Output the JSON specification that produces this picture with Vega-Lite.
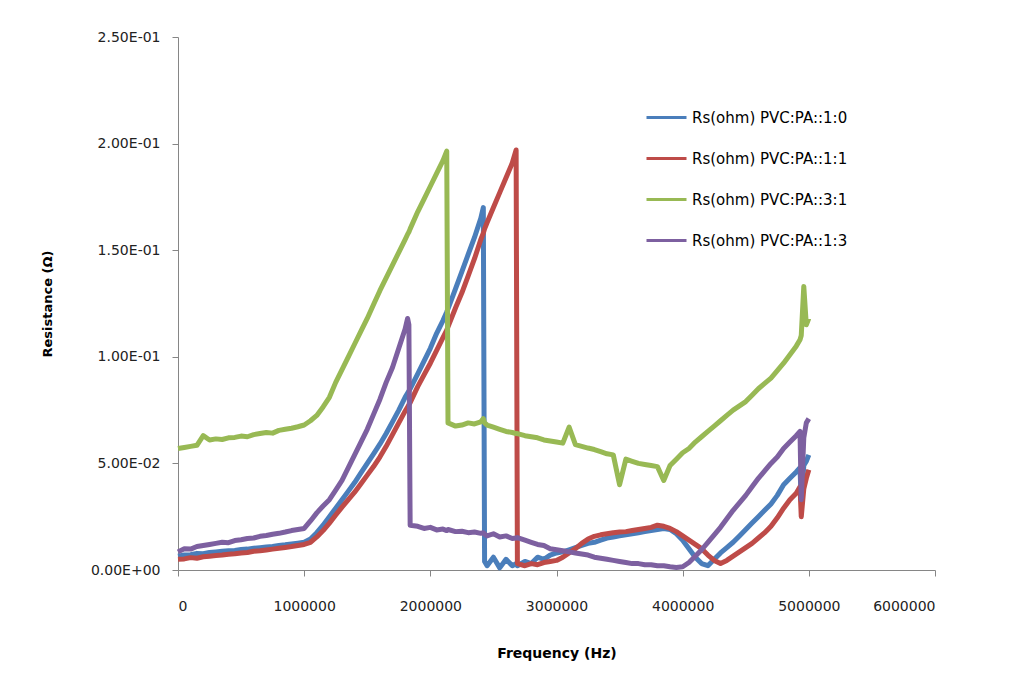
{
"$schema": "https://vega.github.io/schema/vega-lite/v6.json",
"width": 757, "height": 533,
"autosize": {"type": "none"},
"padding": {"left": 178, "top": 37, "right": 85, "bottom": 119},
"background": "white",
"config": {"view": {"stroke": null}, "font": "DejaVu Sans"},
"data": {"values": [
{"f":0,"a":0.0065,"b":0.0050,"c":0.0570,"d":0.0085},
{"f":50000,"a":0.0070,"b":0.0052,"c":0.0575,"d":0.0100},
{"f":100000,"a":0.0072,"b":0.0058,"c":0.0580,"d":0.0098},
{"f":150000,"a":0.0078,"b":0.0055,"c":0.0585,"d":0.0110},
{"f":200000,"a":0.0076,"b":0.0062,"c":0.0630,"d":0.0115},
{"f":250000,"a":0.0082,"b":0.0065,"c":0.0610,"d":0.0120},
{"f":300000,"a":0.0085,"b":0.0068,"c":0.0615,"d":0.0125},
{"f":350000,"a":0.0088,"b":0.0070,"c":0.0612,"d":0.0130},
{"f":400000,"a":0.0090,"b":0.0074,"c":0.0620,"d":0.0128},
{"f":450000,"a":0.0092,"b":0.0076,"c":0.0622,"d":0.0138},
{"f":500000,"a":0.0096,"b":0.0080,"c":0.0628,"d":0.0142},
{"f":550000,"a":0.0098,"b":0.0082,"c":0.0625,"d":0.0148},
{"f":600000,"a":0.0102,"b":0.0088,"c":0.0635,"d":0.0150},
{"f":650000,"a":0.0105,"b":0.0090,"c":0.0640,"d":0.0158},
{"f":700000,"a":0.0108,"b":0.0094,"c":0.0645,"d":0.0162},
{"f":750000,"a":0.0110,"b":0.0098,"c":0.0642,"d":0.0168},
{"f":800000,"a":0.0115,"b":0.0102,"c":0.0655,"d":0.0172},
{"f":850000,"a":0.0118,"b":0.0106,"c":0.0660,"d":0.0178},
{"f":900000,"a":0.0122,"b":0.0110,"c":0.0665,"d":0.0185},
{"f":950000,"a":0.0126,"b":0.0115,"c":0.0672,"d":0.0190},
{"f":1000000,"a":0.0130,"b":0.0120,"c":0.0680,"d":0.0195},
{"f":1050000,"a":0.0145,"b":0.0130,"c":0.0700,"d":0.0230},
{"f":1100000,"a":0.0175,"b":0.0155,"c":0.0725,"d":0.0268},
{"f":1150000,"a":0.0210,"b":0.0185,"c":0.0765,"d":0.0300},
{"f":1200000,"a":0.0250,"b":0.0220,"c":0.0810,"d":0.0330},
{"f":1250000,"a":0.0290,"b":0.0258,"c":0.0880,"d":0.0375},
{"f":1300000,"a":0.0330,"b":0.0295,"c":0.0940,"d":0.0420},
{"f":1350000,"a":0.0370,"b":0.0330,"c":0.1000,"d":0.0480},
{"f":1400000,"a":0.0410,"b":0.0365,"c":0.1060,"d":0.0540},
{"f":1450000,"a":0.0455,"b":0.0405,"c":0.1120,"d":0.0600},
{"f":1500000,"a":0.0500,"b":0.0445,"c":0.1180,"d":0.0660},
{"f":1550000,"a":0.0545,"b":0.0485,"c":0.1245,"d":0.0730},
{"f":1600000,"a":0.0590,"b":0.0530,"c":0.1310,"d":0.0800},
{"f":1650000,"a":0.0640,"b":0.0580,"c":0.1370,"d":0.0880},
{"f":1700000,"a":0.0695,"b":0.0635,"c":0.1430,"d":0.0950},
{"f":1750000,"a":0.0750,"b":0.0690,"c":0.1490,"d":0.1040},
{"f":1800000,"a":0.0810,"b":0.0745,"c":0.1550,"d":0.1130},
{"f":1820000,"a":0.0830,"b":0.0765,"c":0.1575,"d":0.1180},
{"f":1830000,"a":0.0840,"b":0.0775,"c":0.1585,"d":0.1150},
{"f":1840000,"a":0.0850,"b":0.0785,"c":0.1600,"d":0.0210},
{"f":1900000,"a":0.0920,"b":0.0860,"c":0.1680,"d":0.0205},
{"f":1950000,"a":0.0980,"b":0.0915,"c":0.1740,"d":0.0195},
{"f":2000000,"a":0.1040,"b":0.0970,"c":0.1800,"d":0.0200},
{"f":2050000,"a":0.1110,"b":0.1030,"c":0.1860,"d":0.0188},
{"f":2100000,"a":0.1170,"b":0.1090,"c":0.1920,"d":0.0192},
{"f":2130000,"a":0.1210,"b":0.1125,"c":0.1965,"d":0.0185},
{"f":2140000,"a":0.1225,"b":0.1140,"c":0.0690,"d":0.0190},
{"f":2200000,"a":0.1320,"b":0.1230,"c":0.0675,"d":0.0180},
{"f":2250000,"a":0.1400,"b":0.1300,"c":0.0680,"d":0.0182},
{"f":2300000,"a":0.1480,"b":0.1380,"c":0.0690,"d":0.0175},
{"f":2350000,"a":0.1560,"b":0.1460,"c":0.0685,"d":0.0178},
{"f":2400000,"a":0.1650,"b":0.1550,"c":0.0695,"d":0.0172},
{"f":2420000,"a":0.1700,"b":0.1580,"c":0.0710,"d":0.0175},
{"f":2430000,"a":0.0040,"b":0.1600,"c":0.0690,"d":0.0168},
{"f":2450000,"a":0.0020,"b":0.1630,"c":0.0680,"d":0.0160},
{"f":2500000,"a":0.0060,"b":0.1700,"c":0.0670,"d":0.0170},
{"f":2550000,"a":0.0010,"b":0.1770,"c":0.0660,"d":0.0155},
{"f":2600000,"a":0.0050,"b":0.1840,"c":0.0650,"d":0.0160},
{"f":2650000,"a":0.0020,"b":0.1910,"c":0.0645,"d":0.0148},
{"f":2680000,"a":0.0030,"b":0.1970,"c":0.0640,"d":0.0150},
{"f":2690000,"a":0.0020,"b":0.0030,"c":0.0640,"d":0.0152},
{"f":2750000,"a":0.0040,"b":0.0020,"c":0.0630,"d":0.0140},
{"f":2800000,"a":0.0030,"b":0.0030,"c":0.0625,"d":0.0130},
{"f":2850000,"a":0.0060,"b":0.0025,"c":0.0620,"d":0.0120},
{"f":2900000,"a":0.0050,"b":0.0035,"c":0.0610,"d":0.0115},
{"f":2950000,"a":0.0070,"b":0.0040,"c":0.0605,"d":0.0100},
{"f":3000000,"a":0.0080,"b":0.0045,"c":0.0600,"d":0.0095},
{"f":3050000,"a":0.0085,"b":0.0060,"c":0.0595,"d":0.0090},
{"f":3100000,"a":0.0095,"b":0.0080,"c":0.0670,"d":0.0085},
{"f":3150000,"a":0.0105,"b":0.0100,"c":0.0588,"d":0.0080},
{"f":3200000,"a":0.0115,"b":0.0125,"c":0.0580,"d":0.0075},
{"f":3250000,"a":0.0125,"b":0.0145,"c":0.0572,"d":0.0070},
{"f":3300000,"a":0.0130,"b":0.0158,"c":0.0565,"d":0.0060},
{"f":3350000,"a":0.0140,"b":0.0165,"c":0.0555,"d":0.0055},
{"f":3400000,"a":0.0150,"b":0.0170,"c":0.0545,"d":0.0050},
{"f":3450000,"a":0.0155,"b":0.0175,"c":0.0540,"d":0.0045},
{"f":3500000,"a":0.0160,"b":0.0178,"c":0.0400,"d":0.0040},
{"f":3550000,"a":0.0165,"b":0.0180,"c":0.0520,"d":0.0035},
{"f":3600000,"a":0.0170,"b":0.0185,"c":0.0510,"d":0.0030},
{"f":3650000,"a":0.0175,"b":0.0190,"c":0.0500,"d":0.0030},
{"f":3700000,"a":0.0180,"b":0.0195,"c":0.0495,"d":0.0025},
{"f":3750000,"a":0.0185,"b":0.0200,"c":0.0490,"d":0.0025},
{"f":3800000,"a":0.0190,"b":0.0210,"c":0.0485,"d":0.0020},
{"f":3850000,"a":0.0195,"b":0.0205,"c":0.0420,"d":0.0020},
{"f":3900000,"a":0.0190,"b":0.0195,"c":0.0490,"d":0.0015},
{"f":3950000,"a":0.0170,"b":0.0180,"c":0.0520,"d":0.0012},
{"f":4000000,"a":0.0140,"b":0.0160,"c":0.0550,"d":0.0015},
{"f":4050000,"a":0.0100,"b":0.0140,"c":0.0570,"d":0.0035},
{"f":4100000,"a":0.0060,"b":0.0120,"c":0.0600,"d":0.0065},
{"f":4150000,"a":0.0030,"b":0.0100,"c":0.0625,"d":0.0095},
{"f":4200000,"a":0.0020,"b":0.0070,"c":0.0650,"d":0.0130},
{"f":4250000,"a":0.0050,"b":0.0045,"c":0.0675,"d":0.0165},
{"f":4300000,"a":0.0080,"b":0.0030,"c":0.0700,"d":0.0200},
{"f":4350000,"a":0.0105,"b":0.0045,"c":0.0725,"d":0.0240},
{"f":4400000,"a":0.0130,"b":0.0065,"c":0.0750,"d":0.0280},
{"f":4450000,"a":0.0160,"b":0.0085,"c":0.0770,"d":0.0315},
{"f":4500000,"a":0.0190,"b":0.0105,"c":0.0790,"d":0.0350},
{"f":4550000,"a":0.0220,"b":0.0125,"c":0.0820,"d":0.0390},
{"f":4600000,"a":0.0250,"b":0.0150,"c":0.0850,"d":0.0430},
{"f":4650000,"a":0.0280,"b":0.0175,"c":0.0875,"d":0.0465},
{"f":4700000,"a":0.0310,"b":0.0205,"c":0.0900,"d":0.0500},
{"f":4750000,"a":0.0350,"b":0.0245,"c":0.0935,"d":0.0530},
{"f":4800000,"a":0.0400,"b":0.0290,"c":0.0970,"d":0.0570},
{"f":4850000,"a":0.0430,"b":0.0330,"c":0.1010,"d":0.0600},
{"f":4900000,"a":0.0460,"b":0.0360,"c":0.1050,"d":0.0630},
{"f":4930000,"a":0.0480,"b":0.0390,"c":0.1080,"d":0.0650},
{"f":4940000,"a":0.0320,"b":0.0250,"c":0.1100,"d":0.0330},
{"f":4960000,"a":0.0490,"b":0.0380,"c":0.1330,"d":0.0620},
{"f":4980000,"a":0.0510,"b":0.0430,"c":0.1150,"d":0.0690},
{"f":5000000,"a":0.0540,"b":0.0470,"c":0.1180,"d":0.0710}
]},
"transform": [{"fold": ["a", "b", "c", "d"], "as": ["series", "r"]}],
"mark": {"type": "line", "strokeWidth": 5, "strokeJoin": "round"},
"encoding": {
  "x": {"field": "f", "type": "quantitative",
    "scale": {"domain": [0, 6000000], "nice": false},
    "axis": {"title": "Frequency (Hz)", "values": [0,1000000,2000000,3000000,4000000,5000000,6000000], "format": "d",
      "grid": false, "domainColor": "#868686", "tickColor": "#868686", "tickSize": 6,
      "labelFont": "DejaVu Sans", "labelFontSize": 14, "labelColor": "#222", "labelPadding": 23,
      "titleFont": "DejaVu Sans", "titleFontSize": 14, "titleFontWeight": "bold", "titleColor": "#000", "titlePadding": 33}},
  "y": {"field": "r", "type": "quantitative",
    "scale": {"domain": [0, 0.25], "nice": false},
    "axis": {"title": "Resistance (Ω)", "values": [0,0.05,0.1,0.15,0.2,0.25],
      "labelExpr": "datum.value == 0 ? '0.00E+00' : datum.value < 0.09 ? format(datum.value*100, '.2f') + 'E-02' : format(datum.value*10, '.2f') + 'E-01'",
      "grid": false, "domainColor": "#868686", "tickColor": "#868686", "tickSize": 6,
      "labelFont": "DejaVu Sans", "labelFontSize": 14, "labelColor": "#222", "labelPadding": 12,
      "titleFont": "DejaVu Sans", "titleFontSize": 13, "titleFontWeight": "bold", "titleColor": "#000", "titlePadding": 36}},
  "color": {"field": "series", "type": "nominal",
    "scale": {"domain": ["a", "b", "c", "d"], "range": ["#4a7ebb", "#be4b48", "#98b954", "#7d60a0"]},
    "legend": {"title": null, "orient": "none", "legendX": 467, "legendY": 59, "padding": 0,
      "symbolType": "stroke", "symbolSize": 1600, "symbolStrokeWidth": 3, "rowPadding": 11, "labelOffset": 4,
      "labelFont": "DejaVu Sans", "labelFontSize": 15, "labelColor": "#000",
      "labelExpr": "datum.label == 'a' ? 'Rs(ohm) PVC:PA::1:0' : datum.label == 'b' ? 'Rs(ohm) PVC:PA::1:1' : datum.label == 'c' ? 'Rs(ohm) PVC:PA::3:1' : 'Rs(ohm) PVC:PA::1:3'"}}
}
}
